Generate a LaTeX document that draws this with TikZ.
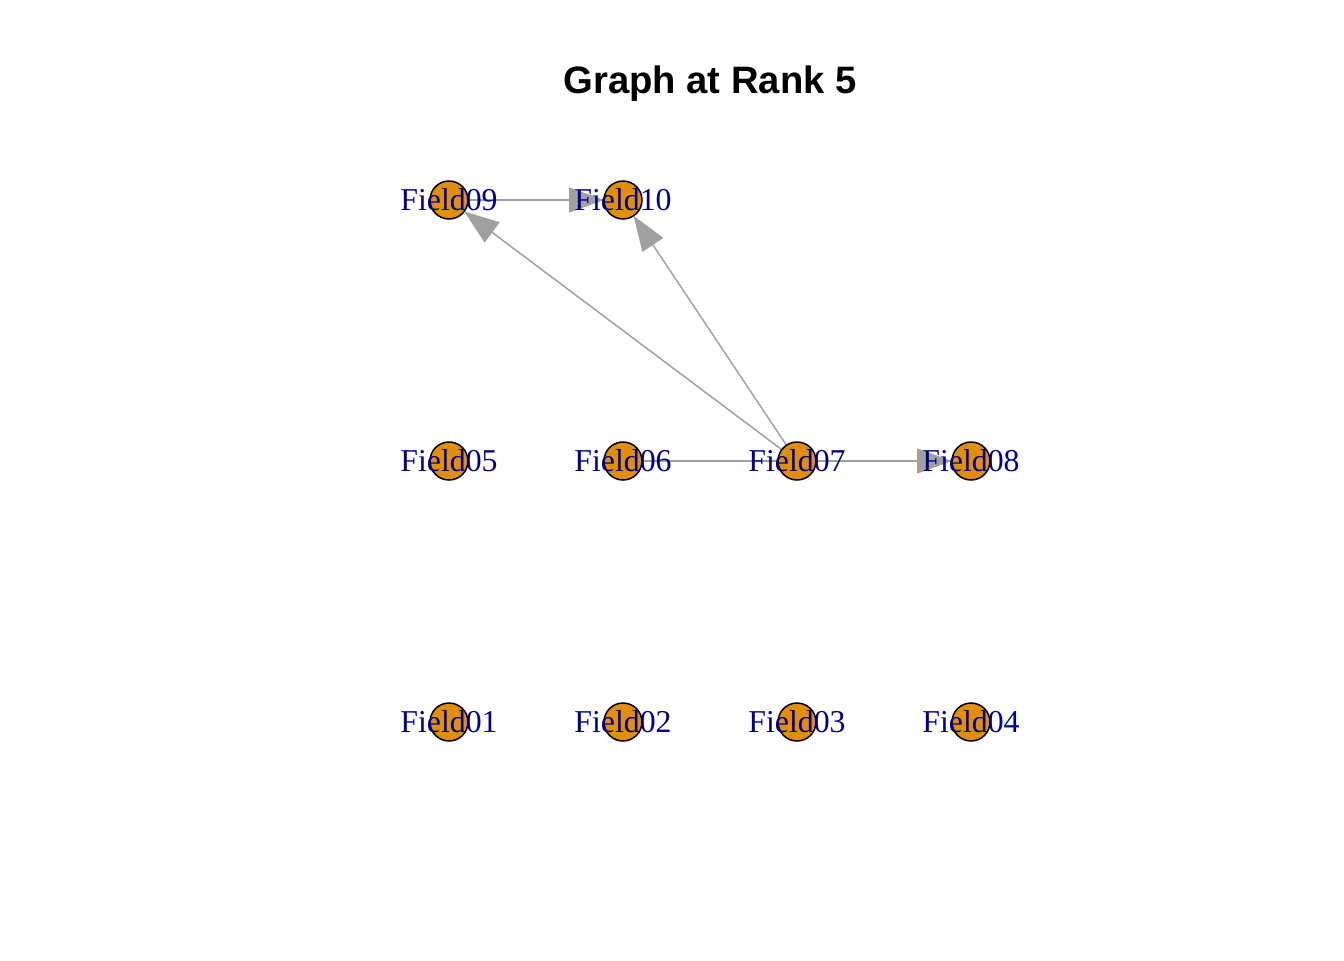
\documentclass[tikz,border=0pt]{standalone}
\usepackage{fontspec}
\setmainfont{Liberation Serif}
\newfontfamily\titlefont{Liberation Sans}
\usetikzlibrary{arrows.meta,backgrounds}
\definecolor{vertexcolor}{RGB}{224,142,11}
\definecolor{labelcolor}{RGB}{0,0,139}
\definecolor{edgecolor}{RGB}{160,160,160}

\begin{document}
\begin{tikzpicture}[
        x=0.5pt, y=-0.5pt,
        vertex/.style={circle, draw, line width=0.75pt, fill=vertexcolor, minimum size=19pt, inner sep=0pt, outer sep=0pt,
                       label={[vlabel]center:#1}},
        vlabel/.style={font=\fontsize{15.9}{18}\selectfont, text=labelcolor, inner sep=0pt},
        arrow/.style={-{Triangle[length=17.5pt, width=12.5pt]}, edgecolor, line width=0.75pt},
        plainedge/.style={edgecolor, line width=0.75pt}
    ]
        \useasboundingbox (0,0) rectangle (1344,960);

        % Title
        \node[font=\titlefont\bfseries\fontsize{19.1}{22}\selectfont] (title) at (710,84) {Graph at Rank 5};

        % Top row
        \node[vertex=Field09] (field09) at (449,200) {};
        \node[vertex=Field10] (field10) at (623,200) {};

        % Middle row
        \node[vertex=Field05] (field05) at (449,461) {};
        \node[vertex=Field06] (field06) at (623,461) {};
        \node[vertex=Field07] (field07) at (797,461) {};
        \node[vertex=Field08] (field08) at (971,461) {};

        % Bottom row
        \node[vertex=Field01] (field01) at (449,722) {};
        \node[vertex=Field02] (field02) at (623,722) {};
        \node[vertex=Field03] (field03) at (797,722) {};
        \node[vertex=Field04] (field04) at (971,722) {};

        % Edges
        \begin{scope}[on background layer]
            \draw[arrow] (field09) -- (field10);
            \draw[arrow] (field07) -- (field09);
            \draw[arrow] (field07) -- (field10);
            \draw[arrow] (field07) -- (field08);
            \draw[plainedge] (field06) -- (field07);
        \end{scope}

    \end{tikzpicture}
\end{document}
